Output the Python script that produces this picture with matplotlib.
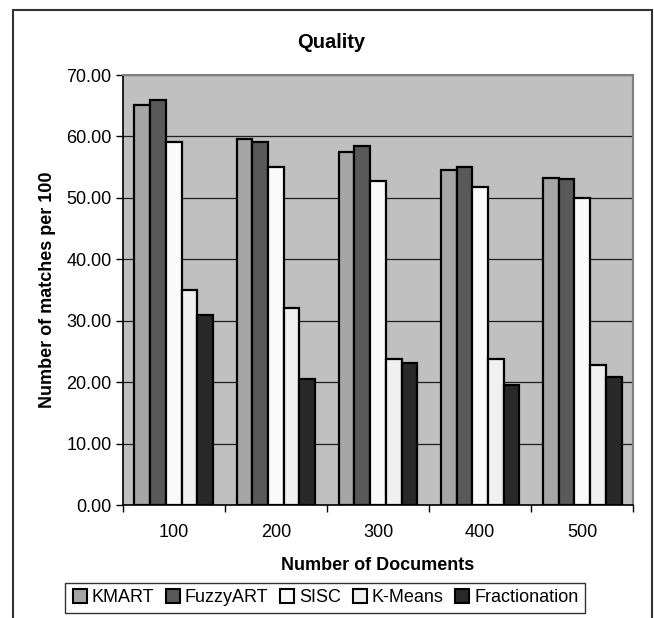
import matplotlib
matplotlib.use('Agg')
import matplotlib.pyplot as plt
from matplotlib.patches import Rectangle
import numpy as np

plt.rcParams['font.family'] = ['Liberation Sans', 'DejaVu Sans']

# data
categories = ['100', '200', '300', '400', '500']
series = ['KMART', 'FuzzyART', 'SISC', 'K-Means', 'Fractionation']
kmart = [65.1, 59.6, 57.5, 54.6, 53.2]
fuzzyart = [66.0, 59.1, 58.4, 55.1, 53.1]
sisc = [59.1, 55.1, 52.7, 51.8, 50.0]
kmeans = [35.0, 32.1, 23.7, 23.7, 22.8]
fractionation = [31.0, 20.5, 23.1, 19.6, 20.8]
yticks = [0, 10, 20, 30, 40, 50, 60, 70]

colors = ['#a6a6a6', '#595959', '#fafafa', '#f0f0f0', '#292929']

W, H = 654, 618
fig = plt.figure(figsize=(W / 100, H / 100), dpi=100)
ax = fig.add_axes([122.7 / W, 1 - 505 / H, 510.6 / W, 430 / H])
ax.set_facecolor('#c0c0c0')

# bars, Excel style: gap width 150 %
x = np.arange(len(categories))
w = 1 / 6.5
for j, (name, vals) in enumerate(zip(series, [kmart, fuzzyart, sisc, kmeans, fractionation])):
    ax.bar(x + (j - 2) * w, vals, width=w, color=colors[j], edgecolor='black',
           linewidth=1.6, label=name, zorder=3)

ax.set_xlim(-0.5, len(categories) - 0.5)
ax.set_ylim(0, 70)
ax.set_yticks(yticks)
ax.set_yticklabels(['{:.2f}'.format(v) for v in yticks])
ax.yaxis.grid(True, color='#202020', linewidth=0.9, zorder=1)

# category boundaries get the tick marks, labels sit in the middle
ax.set_xticks(np.arange(-0.5, len(categories)), minor=False)
ax.set_xticklabels([])
ax.set_xticks(x, minor=True)
ax.set_xticklabels(categories, minor=True)
ax.tick_params(axis='x', which='minor', length=0, pad=14, labelsize=13)
ax.tick_params(axis='x', which='major', length=5, width=1, direction='out', color='black')
ax.tick_params(axis='y', length=5, width=1, direction='out', labelsize=13, pad=3)

for side in ['top', 'right']:
    ax.spines[side].set_color('#808080')
    ax.spines[side].set_linewidth(1.5)
for side in ['left', 'bottom']:
    ax.spines[side].set_color('black')
    ax.spines[side].set_linewidth(1.2)

ax.set_xlabel('Number of Documents', fontsize=13, fontweight='bold', va='center')
ax.xaxis.set_label_coords(0.5, (505 - 566) / 430)
ax.set_ylabel('Number of matches per 100', fontsize=13, fontweight='bold', va='center')
ax.yaxis.set_label_coords((48 - 122.7) / 510.6, 0.5)

fig.text(331 / W, 1 - 43 / H, 'Quality', ha='center', va='center', fontsize=14.5, fontweight='bold')

# legend strip under the chart
handles = [plt.Line2D([], [], marker='s', linestyle='none', markersize=10,
                      markerfacecolor=c, markeredgecolor='black', markeredgewidth=1.5)
           for c in colors]
leg = fig.legend(handles, series, loc='center', bbox_to_anchor=(325 / W, 1 - 598 / H),
                 ncol=5, frameon=True, fancybox=False, fontsize=13, handlelength=0.9,
                 handletextpad=0.2, columnspacing=0.6, borderpad=0.35, borderaxespad=0)
leg.get_frame().set_edgecolor('black')
leg.get_frame().set_linewidth(1.0)

# chart area border (bottom edge falls below the image)
fig.patches.append(Rectangle((12.7 / W, -0.05), (652 - 12.7) / W, 1.05 - 10 / H,
                             transform=fig.transFigure, fill=False,
                             edgecolor='#333333', linewidth=1.5))

fig.savefig('out.png', dpi=100)
